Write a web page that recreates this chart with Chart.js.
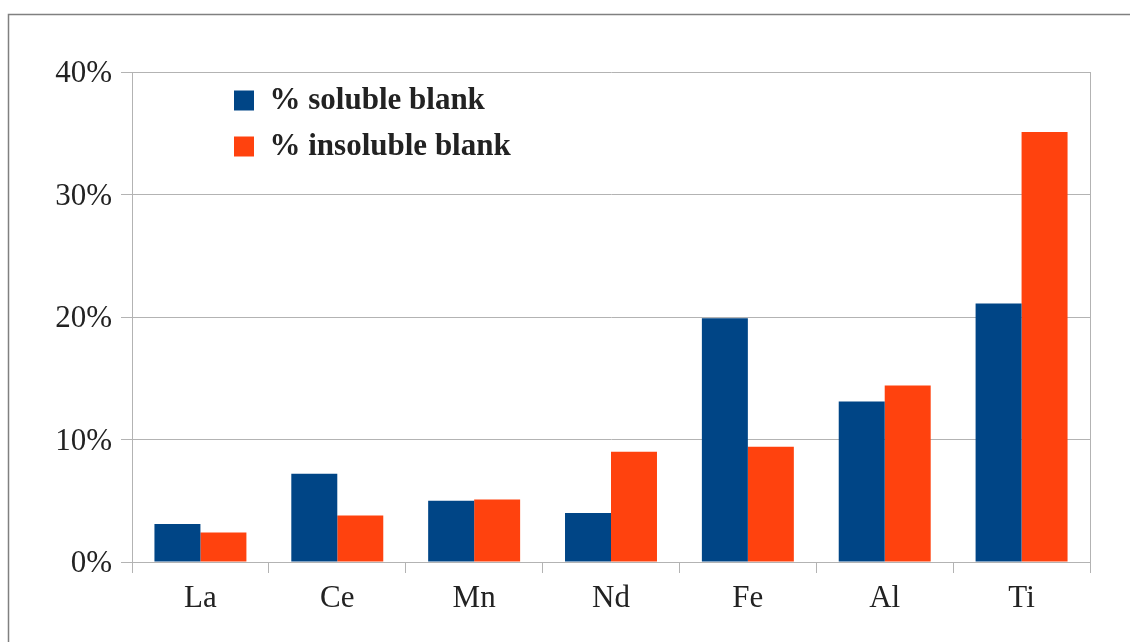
<!DOCTYPE html>
<html>
<head>
<meta charset="utf-8">
<script src="https://cdn.jsdelivr.net/npm/chart.js@4"></script>
<style>
  body { margin: 0; background: #fff; }
  canvas { display: block; }
</style>
</head>
<body>
<canvas id="myBarChart" width="1130" height="642"></canvas>
<script>
'use strict'

const elements = ["La", "Ce", "Mn", "Nd", "Fe", "Al", "Ti"];
const solubleBlank = [3.1, 7.2, 5.0, 4.0, 19.9, 13.1, 21.1];
const insolubleBlank = [2.4, 3.8, 5.1, 9.0, 9.4, 14.4, 35.1];
const seriesNames = ["% soluble blank", "% insoluble blank"];
const yTicks = [0, 10, 20, 30, 40];

const gridColor = "#b3b3b3";
const textColor = "#222";
const serif = "'Liberation Serif', serif";

// 外枠と右側の枠線
const framePlugin = {
    id: "frame",
    beforeDraw(chart) {
        const c = chart.ctx;
        c.save();
        c.fillStyle = "#fff";
        c.fillRect(0, 0, chart.width, chart.height);
        c.strokeStyle = "#808080";
        c.lineWidth = 1.5;
        c.beginPath();
        c.moveTo(chart.width, 14.5);
        c.lineTo(8.5, 14.5);
        c.lineTo(8.5, chart.height);
        c.stroke();
        c.restore();
    },
    afterDatasetsDraw(chart) {
        const a = chart.chartArea;
        const c = chart.ctx;
        c.save();
        c.strokeStyle = gridColor;
        c.lineWidth = 1;
        c.beginPath();
        c.moveTo(Math.round(a.right) + 0.5, a.top);
        c.lineTo(Math.round(a.right) + 0.5, a.bottom);
        c.stroke();
        c.restore();
    }
};

// 凡例をプロット内の左上へ移動
const legendMovePlugin = {
    id: "legendMove",
    afterLayout(chart) {
        if (chart.legend) {
            chart.legend.left = 219;
            chart.legend.top = 70;
        }
    }
};

new Chart(document.getElementById("myBarChart"), {
    type: "bar",
    data: {
        labels: elements,
        datasets: [{
            label: seriesNames[0],
            data: solubleBlank,
            backgroundColor: "#004586"
        }, {
            label: seriesNames[1],
            data: insolubleBlank,
            backgroundColor: "#ff420e"
        }]
    },
    options: {
        responsive: false,
        animation: false,
        datasets: {
            bar: { categoryPercentage: 0.672, barPercentage: 1.0 }
        },
        layout: { padding: { top: 72, right: 40, left: 0, bottom: 0 } },
        plugins: {
            tooltip: { enabled: false },
            legend: {
                position: "chartArea",
                align: "start",
                labels: {
                    boxWidth: 20,
                    boxHeight: 20,
                    padding: 15,
                    color: textColor,
                    font: { family: serif, size: 31, weight: "bold" }
                }
            }
        },
        scales: {
            x: {
                grid: {
                    offset: true,
                    drawOnChartArea: false,
                    tickLength: 11,
                    color: gridColor
                },
                border: { color: gridColor },
                ticks: {
                    padding: 7,
                    color: textColor,
                    font: { family: serif, size: 31 }
                },
                afterFit(scale) { scale.height = 80; }
            },
            y: {
                min: yTicks[0],
                max: yTicks[yTicks.length - 1],
                afterBuildTicks(scale) { scale.ticks = yTicks.map(v => ({ value: v })); },
                grid: { color: gridColor, tickLength: 11 },
                border: { color: gridColor },
                ticks: {
                    padding: 9,
                    labelOffset: 2,
                    color: textColor,
                    font: { family: serif, size: 31 },
                    callback: v => v + "%"
                },
                afterFit(scale) { scale.width = 132; }
            }
        }
    },
    plugins: [framePlugin, legendMovePlugin]
});
</script>
</body>
</html>
